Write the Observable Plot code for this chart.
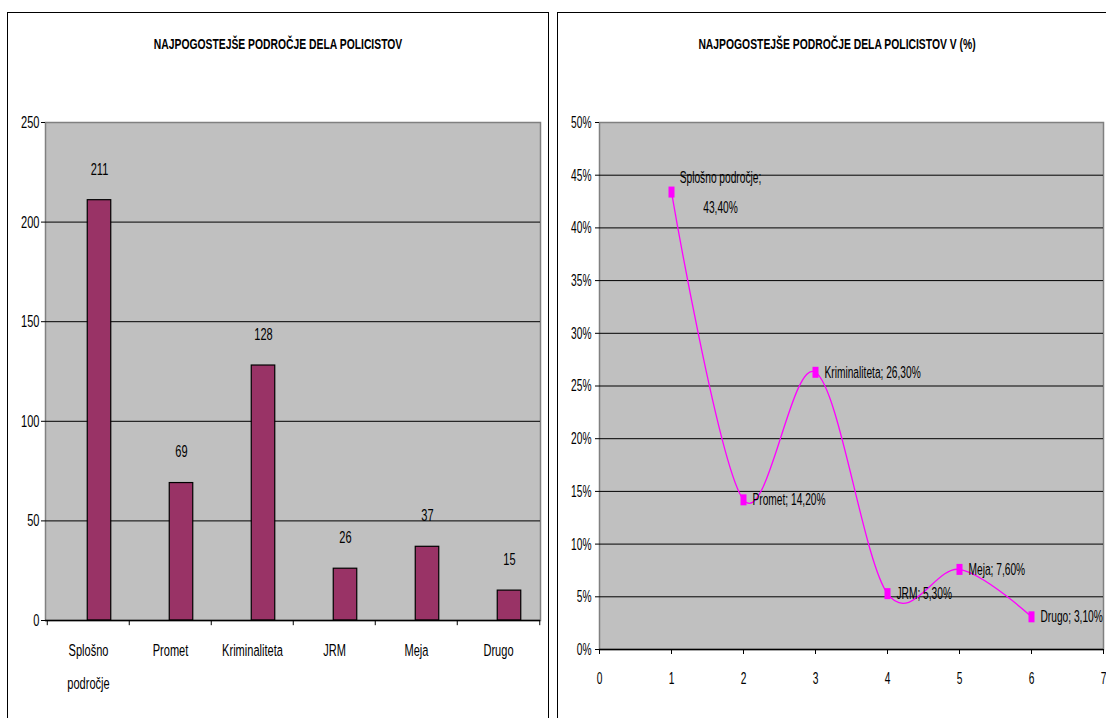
<!DOCTYPE html>
<html>
<head>
<meta charset="utf-8">
<script src="https://cdn.jsdelivr.net/npm/d3@7"></script>
<script src="https://cdn.jsdelivr.net/npm/@observablehq/plot@0.6"></script>
<style>
  body { margin: 0; background: #fff; }
  #wrap { position: relative; width: 1106px; height: 718px; overflow: hidden; background: #fff;
          font-family: "Liberation Sans", Arial, sans-serif; }
  .panel { position: absolute; border: 1.5px solid #000; box-sizing: border-box; }
  .title { position: absolute; top: 35px; font-weight: bold; font-size: 15px; white-space: nowrap;
           transform: translateX(-50%) scaleX(0.69); color: #000; }
  .chart { position: absolute; top: 0; }
</style>
</head>
<body>
<div id="wrap">
  <div class="panel" style="left:7px;top:12px;width:542px;height:730px"></div>
  <div class="panel" style="left:557px;top:12px;width:580px;height:730px"></div>
  <div class="title" style="left:278px">NAJPOGOSTEJŠE PODROČJE DELA POLICISTOV</div>
  <div class="title" style="left:837px">NAJPOGOSTEJŠE PODROČJE DELA POLICISTOV V (%)</div>
  <div class="chart" id="left" style="left:0px"></div>
  <div class="chart" id="right" style="left:550px"></div>
</div>
<script>
// ---- data ----
const categories = ["Splošno področje", "Promet", "Kriminaliteta", "JRM", "Meja", "Drugo"];
const counts = [211, 69, 128, 26, 37, 15];
const leftYTicks = [0, 50, 100, 150, 200, 250];
const leftGrid = [50, 100, 150, 200];

const positions = [1, 2, 3, 4, 5, 6];
const percents = [43.4, 14.2, 26.3, 5.3, 7.6, 3.1];
const rightYTicks = [0, 5, 10, 15, 20, 25, 30, 35, 40, 45, 50];
const rightGrid = [5, 10, 15, 20, 25, 30, 35, 40, 45];
const rightXTicks = [0, 1, 2, 3, 4, 5, 6, 7];

// ---- helpers ----
const FONT = '"Liberation Sans", Arial, sans-serif';
function squeezeText(svg, k) {
  svg.querySelectorAll("text").forEach(t => {
    const tr = t.getAttribute("transform");
    if (tr) t.setAttribute("transform", tr + ` scale(${k},1)`);
    else {
      const x = +(t.getAttribute("x") || 0), y = +(t.getAttribute("y") || 0);
      t.setAttribute("transform", `translate(${x},${y}) scale(${k},1) translate(${-x},${-y})`);
    }
  });
  return svg;
}
const fmtPct = v => v.toFixed(2).replace(".", ",") + "%";

// ---- left chart ----
const barData = categories.map((c, i) => ({cat: c, n: counts[i]}));
const L = {width: 556, height: 718, ml: 45, mr: 16, mt: 122, mb: 98};
const bw = (L.width - L.ml - L.mr) / categories.length;

const leftChart = Plot.plot({
  width: L.width, height: L.height,
  marginLeft: L.ml, marginRight: L.mr, marginTop: L.mt, marginBottom: L.mb,
  style: {background: "transparent", fontFamily: FONT, fontSize: "17px", color: "#000", overflow: "visible"},
  x: {domain: categories, padding: 0, axis: null},
  y: {domain: [0, 250], axis: null},
  marks: [
    Plot.frame({fill: "#c0c0c0", stroke: "#808080", strokeWidth: 1.5}),
    Plot.ruleY(leftGrid, {stroke: "#000"}),
    Plot.barY(barData, {x: "cat", y: "n", fill: "#993366", stroke: "#000", strokeWidth: 1.2,
                        insetLeft: bw / 2 - 1, insetRight: bw / 2 - 23}),
    Plot.text(barData, {x: "cat", y: "n", text: d => String(d.n), dx: 11, dy: -31, fill: "#000"}),
    Plot.ruleY([0], {stroke: "#000", strokeWidth: 1.5}),
    Plot.axisY({ticks: leftYTicks, tickSize: 4, tickPadding: 2, tickFormat: d => String(d), stroke: "#000", label: null}),
    Plot.axisX({tickSize: 0, tickPadding: 13, lineHeight: 1.9, tickFormat: d => d.replace(" ", "\n"), label: null}),
    Plot.ruleX(categories, {dx: -bw / 2, y1: 0, y2: -2.6, stroke: "#000"}),
    Plot.ruleX([categories[categories.length - 1]], {dx: bw / 2, y1: 0, y2: -2.6, stroke: "#000"})
  ]
});
document.getElementById("left").appendChild(squeezeText(leftChart, 0.65));

// ---- right chart ----
const lineData = positions.map((x, i) => ({x, p: percents[i], cat: categories[i]}));
const rectSymbol = {draw(ctx) { ctx.rect(-3, -5.5, 6, 11); }};

const rightChart = Plot.plot({
  width: 556, height: 718,
  marginLeft: 49, marginRight: 3, marginTop: 122, marginBottom: 69,
  style: {background: "transparent", fontFamily: FONT, fontSize: "17px", color: "#000", overflow: "visible"},
  x: {domain: [0, 7], axis: null},
  y: {domain: [0, 50], axis: null},
  marks: [
    Plot.frame({fill: "#c0c0c0", stroke: "#808080", strokeWidth: 1.5}),
    Plot.ruleY(rightGrid, {stroke: "#000"}),
    Plot.ruleY([0], {stroke: "#000", strokeWidth: 1.5}),
    Plot.axisY({ticks: rightYTicks, tickSize: 4, tickPadding: 4, tickFormat: d => d + "%", stroke: "#000", label: null}),
    Plot.axisX({ticks: rightXTicks, tickSize: 5, tickPadding: 17, tickFormat: d => String(d), stroke: "#000", label: null}),
    Plot.line(lineData, {x: "x", y: "p", stroke: "#ff00ff", strokeWidth: 1.3, curve: "cardinal"}),
    Plot.dot(lineData, {x: "x", y: "p", symbol: rectSymbol, fill: "#ff00ff", stroke: "none"}),
    Plot.text(lineData.slice(0, 1), {x: "x", y: "p", text: d => `${d.cat};\n${fmtPct(d.p)}`,
                                     textAnchor: "middle", dx: 49, dy: -4, lineHeight: 1.8, fill: "#000"}),
    Plot.text(lineData.slice(1), {x: "x", y: "p", text: d => `${d.cat}; ${fmtPct(d.p)}`,
                                  textAnchor: "start", dx: 9, fill: "#000"})
  ]
});
document.getElementById("right").appendChild(squeezeText(rightChart, 0.6));
</script>
</body>
</html>
